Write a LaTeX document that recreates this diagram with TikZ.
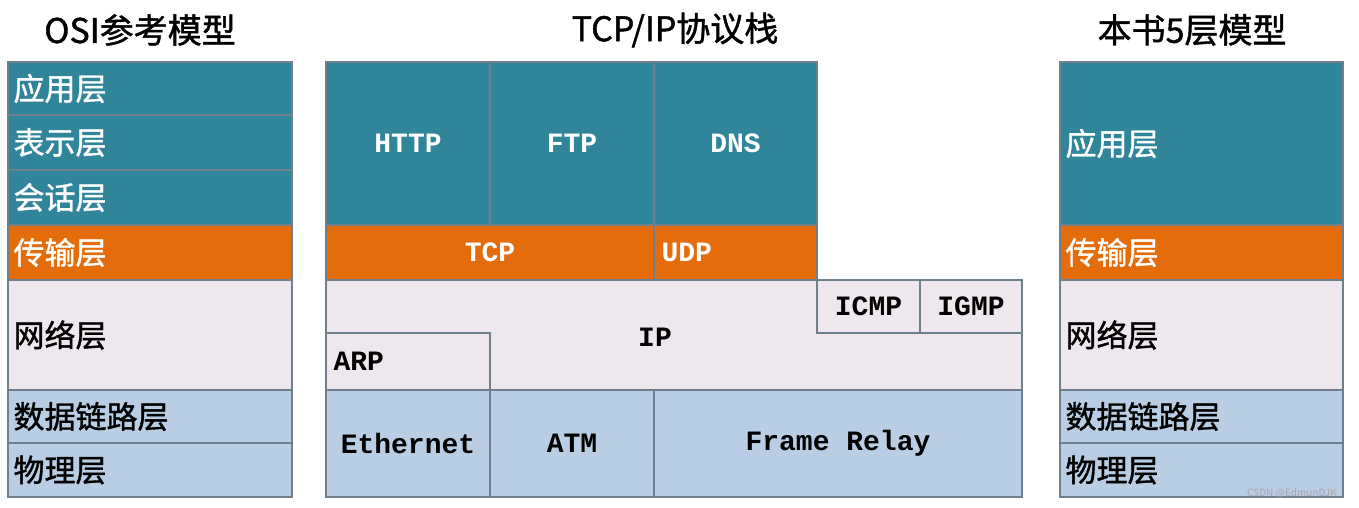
\documentclass[tikz,border=0pt]{standalone}
\usepackage{fontspec}
\setmainfont{Noto Sans CJK SC}
\newfontfamily\zhb{Noto Sans CJK SC}[FakeBold=1.2]
\setmonofont{Liberation Mono}
\definecolor{teal1}{HTML}{31859B}
\definecolor{orng}{HTML}{E46C0A}
\definecolor{lav}{HTML}{EEE7EE}
\definecolor{lblue}{HTML}{B9CDE5}
\definecolor{edge}{HTML}{6F7F8C}
\begin{document}
\begin{tikzpicture}[x=1pt,y=-1pt,
  box/.style={draw=edge,line width=1.5pt,anchor=north west,inner sep=0pt,outer sep=0pt},
  zh/.style={font=\zhb\fontsize{31}{33}\selectfont},
  mono/.style={font=\ttfamily\bfseries\fontsize{28}{30}\selectfont},
  ttl/.style={font=\zhb\fontsize{34}{36}\selectfont}]
\useasboundingbox (0,0) rectangle (1359,508);
\fill[white] (0,0) rectangle (1359,508);
% titles
\node[ttl] (t1) at (140,30) {OSI参考模型};
\node[ttl] (t2) at (675,30) {TCP/IP协议栈};
\node[ttl] (t3) at (1192,30) {本书5层模型};
% left column
\foreach \n/\a/\b/\c/\t/\tc in {l1/62/115/teal1/应用层/white,l2/115/170/teal1/表示层/white,l3/170/225/teal1/会话层/white,l4/225/280/orng/传输层/white,l5/280/390/lav/网络层/black,l6/390/443/lblue/数据链路层/black,l7/443/497/lblue/物理层/black}{
  \node[box,fill=\c,minimum width=284pt,minimum height={\b-\a}] (\n) at (8,\a) {};
  \node[zh,text=\tc,anchor=west] (\n t) at ([xshift=2pt]\n.west) {\t};
}
% right column
\foreach \n/\a/\b/\c/\t/\tc in {r1/62/225/teal1/应用层/white,r4/225/280/orng/传输层/white,r5/280/390/lav/网络层/black,r6/390/443/lblue/数据链路层/black,r7/443/497/lblue/物理层/black}{
  \node[box,fill=\c,minimum width=283pt,minimum height={\b-\a}] (\n) at (1060,\a) {};
  \node[zh,text=\tc,anchor=west] (\n t) at ([xshift=2pt]\n.west) {\t};
}
% middle
\foreach \n/\x/\y/\w/\h/\c/\t/\tc in {http/326/62/164/163/teal1/HTTP/white,ftp/490/62/164/163/teal1/FTP/white,dns/654/62/163/163/teal1/DNS/white,tcp/326/225/328/55/orng/TCP/white,ipb/326/280/696/110/lav//black,eth/326/390/164/107/lblue/Ethernet/black,atm/490/390/164/107/lblue/ATM/black,fr/654/390/368/107/lblue/Frame Relay/black}{
  \node[box,fill=\c,minimum width=\w,minimum height=\h] (\n) at (\x,\y) {};
  \node[mono,text=\tc] (\n t) at (\n.center) {\t};
}
\node[box,fill=orng,minimum width=163pt,minimum height=55pt] (udp) at (654,225) {};
\node[anchor=west,mono,text=white] (udpt) at ([xshift=4pt]udp.west) {UDP};
\node[box,fill=lav,minimum width=103pt,minimum height=53pt] (icmp) at (817,280) {};
\node[mono] (icmpt) at (icmp.center) {ICMP};
\node[box,fill=lav,minimum width=102pt,minimum height=53pt] (igmp) at (920,280) {};
\node[mono] (igmpt) at (igmp.center) {IGMP};
\node[box,fill=lav,minimum width=164pt,minimum height=57pt] (arp) at (326,333) {};
\node[mono,anchor=west] (arpt) at ([xshift=4pt]arp.west) {ARP};
\node[mono] (ip) at (655,337) {IP};
\node[text=gray!70,font=\fontsize{10}{12}\selectfont] (wm) at (1292,493) {CSDN @EdmunDJK};
\end{tikzpicture}
\end{document}
